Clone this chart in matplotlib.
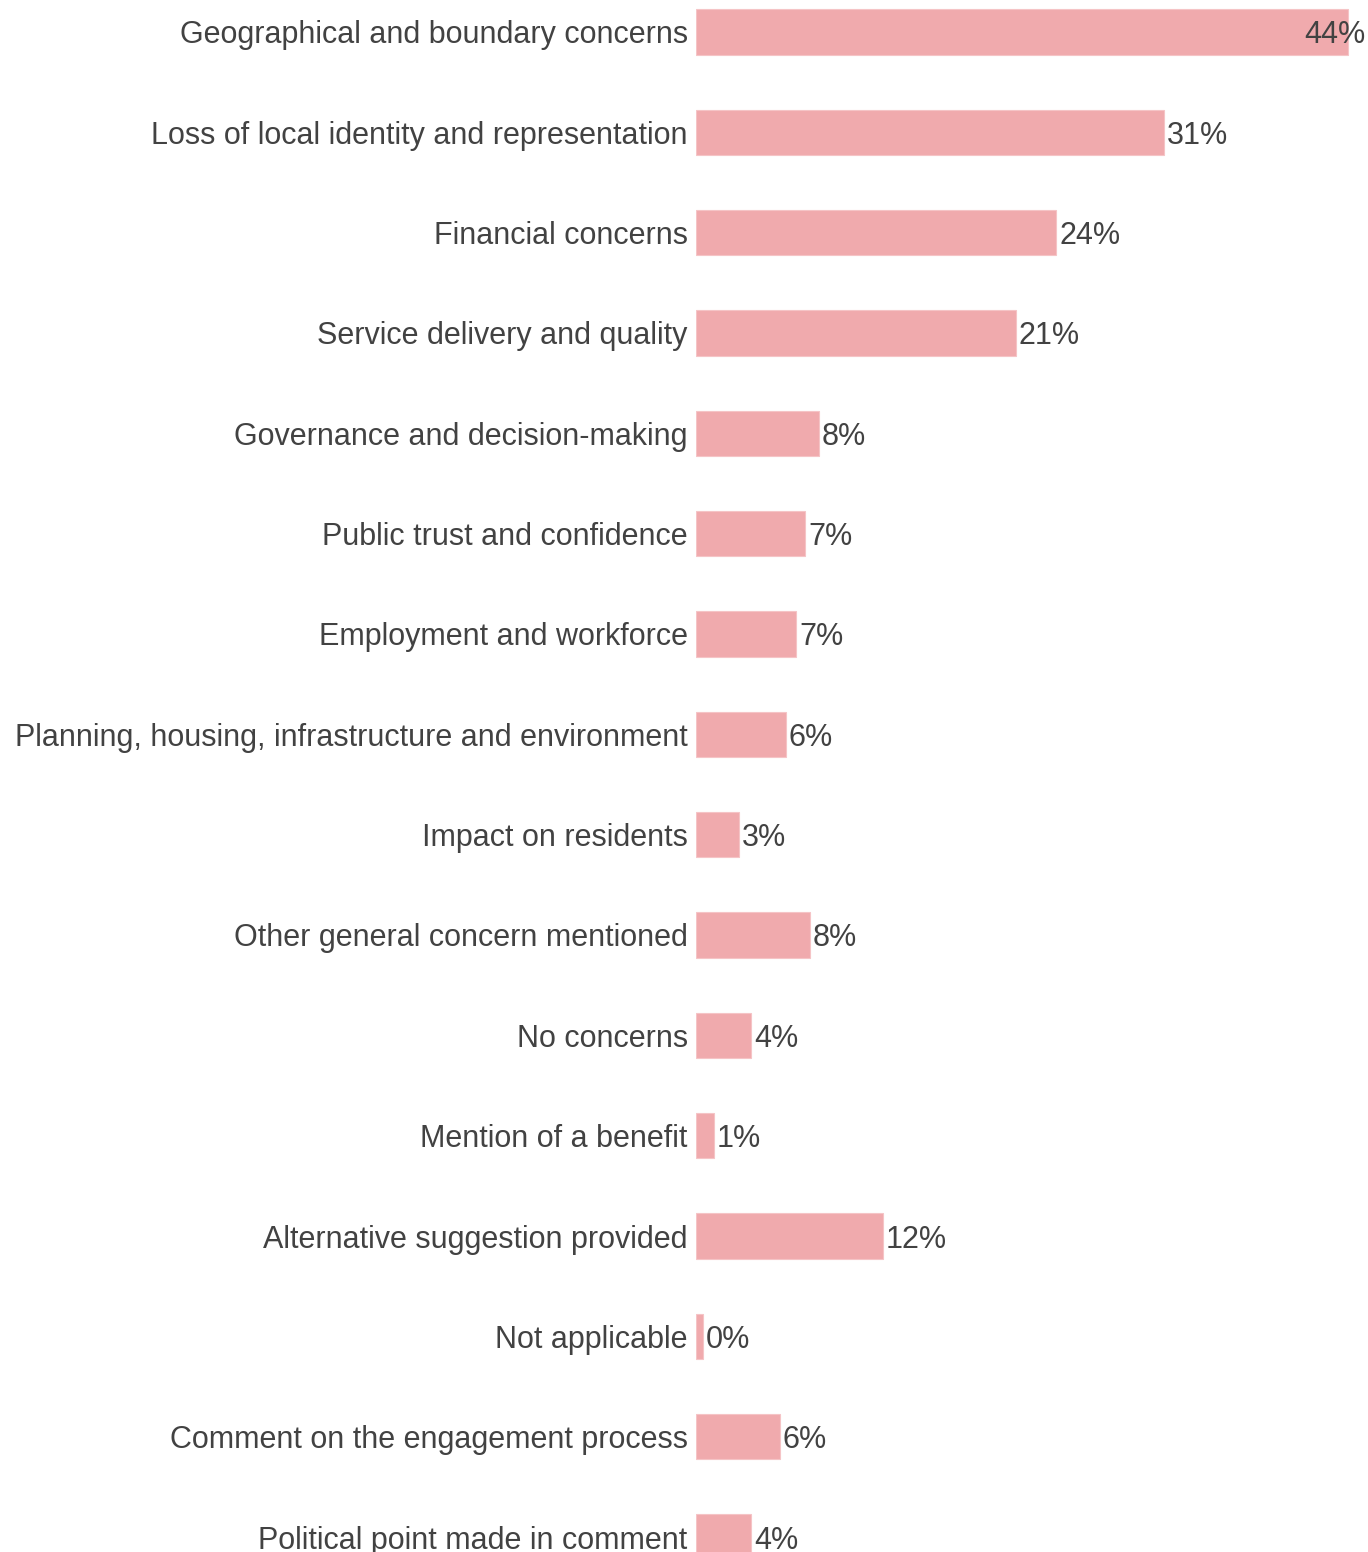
import matplotlib.pyplot as plt

categories = [
    'Geographical and boundary concerns',
    'Loss of local identity and representation',
    'Financial concerns',
    'Service delivery and quality',
    'Governance and decision-making',
    'Public trust and confidence',
    'Employment and workforce',
    'Planning, housing, infrastructure and environment',
    'Impact on residents',
    'Other general concern mentioned',
    'No concerns',
    'Mention of a benefit',
    'Alternative suggestion provided',
    'Not applicable',
    'Comment on the engagement process',
    'Political point made in comment',
]
# share of responses, percent
values = [43.6, 31.3, 24.1, 21.4, 8.2, 7.3, 6.7, 6.0, 2.9, 7.6, 3.7, 1.2, 12.5, 0.45, 5.6, 3.7]

bar_color = '#f0aaad'
text_color = '#424242'
fsize = 22

plt.rcParams['font.family'] = ['Liberation Sans', 'DejaVu Sans']

fig = plt.figure(figsize=(13.68, 15.52), dpi=100)
ax = fig.add_axes([696 / 1368, 0, 1 - 696 / 1368, 1])

ypos = list(range(len(categories)))
ax.barh(ypos, values, height=0.45, color=bar_color, edgecolor='#f5c4c6', linewidth=0.8)

xmax = 672 / 14.95
ax.set_xlim(0, xmax)
ax.set_ylim(15 + 15 / 100.36, -32 / 100.36)

for y, v in zip(ypos, values):
    label = f'{round(v)}%'
    if v == max(values):
        # no room to the right of the longest bar, tuck the label inside
        ax.annotate(label, xy=(1, y), xycoords=('axes fraction', 'data'),
                    xytext=(-2, 0), textcoords='offset points',
                    ha='right', va='center_baseline', fontsize=fsize, color=text_color)
    else:
        ax.annotate(label, xy=(v, y), xytext=(2, 0), textcoords='offset points',
                    ha='left', va='center_baseline', fontsize=fsize, color=text_color)

ax.set_yticks(ypos)
ax.set_yticklabels(categories, fontsize=fsize, color=text_color)
ax.tick_params(axis='y', length=0, pad=6)
ax.set_xticks([])
for s in ax.spines.values():
    s.set_visible(False)

fig.savefig('out.png', dpi=100)
